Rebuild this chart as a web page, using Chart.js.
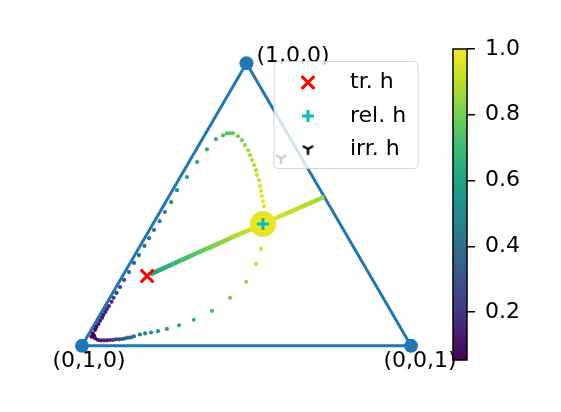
<!DOCTYPE html>
<html>
<head>
<meta charset="utf-8">
<script src="https://cdn.jsdelivr.net/npm/chart.js@4.4.1/dist/chart.umd.min.js"></script>
<style>
  html, body { margin: 0; padding: 0; background: #fff; }
  #wrap { position: relative; width: 561px; height: 412px; }
  #main { position: absolute; left: 0; top: 0; }
  #cbar { position: absolute; left: 430px; top: 30px; }
</style>
</head>
<body>
<div id="wrap">
  <canvas id="main" width="561" height="412"></canvas>
  <canvas id="cbar" width="131" height="350"></canvas>
</div>
<script>
// corners of the simplex, cartesian coords
const cornerLabels = ['(1,0,0)', '(0,1,0)', '(0,0,1)'];
const cornerX = [0.5, 0, 1];
const cornerY = [0.866, 0, 0];

// trajectory up the left edge, bending down into the fixed point
const leftX = [0.029, 0.033, 0.040, 0.044, 0.050, 0.055, 0.061, 0.065, 0.071, 0.076, 0.082, 0.090, 0.096,
    0.105, 0.116, 0.128, 0.143, 0.158, 0.173, 0.190, 0.204, 0.219, 0.236, 0.252, 0.271, 0.289,
    0.319, 0.350, 0.380, 0.407, 0.429, 0.441, 0.450, 0.459,
    0.474, 0.486, 0.495, 0.505, 0.511, 0.517, 0.523, 0.529, 0.532, 0.538, 0.541, 0.544, 0.547, 0.550, 0.553];
const leftY = [0.028, 0.038, 0.049, 0.058, 0.067, 0.077, 0.086, 0.095, 0.104, 0.113, 0.122, 0.135, 0.147,
    0.162, 0.180, 0.202, 0.226, 0.254, 0.278, 0.306, 0.330, 0.355, 0.382, 0.410, 0.440, 0.477,
    0.517, 0.563, 0.602, 0.633, 0.645, 0.651, 0.651, 0.651,
    0.642, 0.630, 0.615, 0.599, 0.584, 0.569, 0.554, 0.538, 0.523, 0.508, 0.489, 0.474, 0.459, 0.443, 0.428];
const leftV = [0.06, 0.07, 0.08, 0.09, 0.10, 0.11, 0.12, 0.13, 0.14, 0.16, 0.17, 0.19, 0.21,
    0.23, 0.26, 0.29, 0.32, 0.35, 0.37, 0.39, 0.41, 0.43, 0.45, 0.47, 0.50, 0.53,
    0.57, 0.61, 0.64, 0.68, 0.71, 0.73, 0.75, 0.77,
    0.80, 0.82, 0.84, 0.86, 0.87, 0.89, 0.90, 0.91, 0.92, 0.93, 0.94, 0.95, 0.96, 0.96, 0.97];

// trajectory along the bottom edge, rising into the fixed point
const bottomX = [0.037, 0.040, 0.049, 0.058, 0.067, 0.076, 0.085, 0.094, 0.103, 0.113, 0.122, 0.131, 0.140, 0.149,
    0.158, 0.176, 0.192, 0.210, 0.231, 0.258, 0.295, 0.340, 0.395, 0.450, 0.499, 0.529, 0.544];
const bottomY = [0.031, 0.023, 0.018, 0.017, 0.017, 0.017, 0.018, 0.018, 0.020, 0.020, 0.021, 0.023, 0.025, 0.026,
    0.029, 0.035, 0.038, 0.041, 0.045, 0.052, 0.063, 0.080, 0.107, 0.147, 0.196, 0.251, 0.297];
const bottomV = [0.06, 0.07, 0.08, 0.10, 0.12, 0.14, 0.17, 0.20, 0.23, 0.26, 0.29, 0.32, 0.35, 0.38,
    0.41, 0.45, 0.49, 0.52, 0.55, 0.59, 0.63, 0.68, 0.74, 0.80, 0.86, 0.91, 0.94];

// straight path from the tr. point to the fixed point, and from the edge to it
const lineX = [0.207, 0.277, 0.380, 0.480, 0.517, 0.550];
const lineY = [0.219, 0.251, 0.298, 0.343, 0.358, 0.373];
const lineV = [0.60, 0.67, 0.79, 0.89, 0.93, 0.97];
const edgeX = [0.550, 0.593, 0.663, 0.736];
const edgeY = [0.373, 0.393, 0.424, 0.456];
const edgeV = [0.97, 0.94, 0.90, 0.86];

// special points
const fixX = [0.550], fixY = [0.373], fixV = [0.97];
const trX = [0.198], trY = [0.214];
const relX = [0.550], relY = [0.373];
const irrX = [0.605], irrY = [0.575];
const legendLabels = ['tr. h', 'rel. h', 'irr. h'];

// colorbar
const cbMin = 0.054, cbMax = 1.0;
const cbTicks = [0.2, 0.4, 0.6, 0.8, 1.0];

const FONT = 'DejaVu Sans';
const viridisStops = ['#440154', '#482475', '#414487', '#355f8d', '#2a788e', '#21918c',
    '#22a884', '#44bf70', '#7ad151', '#bddf26', '#fde725'];

function hexRgb(h) {
    return [1, 3, 5].map(i => parseInt(h.substr(i, 2), 16));
}
function viridis(v) {
    let t = (v - cbMin) / (cbMax - cbMin);
    t = Math.min(1, Math.max(0, t));
    const p = t * 10, i = Math.min(9, Math.floor(p)), f = p - i;
    const a = hexRgb(viridisStops[i]), b = hexRgb(viridisStops[i + 1]);
    const c = a.map((ai, k) => Math.round(ai + (b[k] - ai) * f));
    return 'rgb(' + c.join(',') + ')';
}
const pts = (xs, ys) => xs.map((x, i) => ({ x: x, y: ys[i] }));

// matplotlib style tri_down marker
function triDown(r, w) {
    const c = document.createElement('canvas');
    const s = Math.ceil(2 * r + w + 2);
    c.width = c.height = s;
    const g = c.getContext('2d');
    const m = s / 2;
    g.strokeStyle = '#000';
    g.lineWidth = w;
    g.beginPath();
    g.moveTo(m, m); g.lineTo(m, m + r);
    g.moveTo(m, m); g.lineTo(m - r * 0.866, m - r * 0.5);
    g.moveTo(m, m); g.lineTo(m + r * 0.866, m - r * 0.5);
    g.stroke();
    return c;
}
const triMarker = triDown(6, 2.4);

function dots(xs, ys, vs) {
    return {
        data: pts(xs, ys),
        pointRadius: 2.1,
        pointBorderWidth: 0,
        pointBackgroundColor: vs.map(viridis),
        showLine: false,
        order: 5
    };
}
function path(xs, ys, vs) {
    return {
        data: pts(xs, ys),
        showLine: true,
        pointRadius: 0,
        borderWidth: 4.5,
        borderColor: viridis(vs[0]),
        segment: {
            borderColor: ctx => {
                const g = ctx.chart.ctx.createLinearGradient(ctx.p0.x, ctx.p0.y, ctx.p1.x, ctx.p1.y);
                g.addColorStop(0, viridis(vs[ctx.p0DataIndex]));
                g.addColorStop(1, viridis(vs[ctx.p1DataIndex]));
                return g;
            }
        },
        order: 5
    };
}

const cornerPlugin = {
    id: 'corners',
    afterDatasetsDraw(chart) {
        const c = chart.ctx, sx = chart.scales.x, sy = chart.scales.y;
        c.save();
        c.fillStyle = '#000';
        c.font = '22px "' + FONT + '"';
        c.textBaseline = 'middle';
        const offs = [[10, -7, 'left'], [7, 15, 'center'], [9, 15, 'center']];
        cornerLabels.forEach((lab, i) => {
            const px = sx.getPixelForValue(cornerX[i]), py = sy.getPixelForValue(cornerY[i]);
            c.textAlign = offs[i][2];
            c.fillText(lab, px + offs[i][0], py + offs[i][1]);
        });
        c.restore();
    }
};

const legendPlugin = {
    id: 'boxLegend',
    afterDraw(chart) {
        const c = chart.ctx, a = chart.chartArea;
        const w = 144, h = 107;
        const x0 = a.right - 9.5 - w, y0 = a.top + 12.5;
        c.save();
        c.beginPath();
        c.roundRect(x0, y0, w, h, 4);
        c.fillStyle = 'rgba(255,255,255,0.8)';
        c.fill();
        c.strokeStyle = 'rgba(204,204,204,0.8)';
        c.lineWidth = 1;
        c.stroke();
        const mx = x0 + 34, rows = [y0 + 21, y0 + 54.5, y0 + 87.5];
        c.lineWidth = 3;
        c.strokeStyle = '#ff0000';
        Chart.helpers.drawPoint(c, { pointStyle: 'crossRot', radius: 9, borderWidth: 3 }, mx, rows[0]);
        c.strokeStyle = '#00bfbf';
        Chart.helpers.drawPoint(c, { pointStyle: 'cross', radius: 6, borderWidth: 3 }, mx, rows[1]);
        Chart.helpers.drawPoint(c, { pointStyle: triMarker, radius: 6, borderWidth: 1 }, mx, rows[2]);
        c.fillStyle = '#000';
        c.font = '22px "' + FONT + '"';
        c.textAlign = 'left';
        c.textBaseline = 'middle';
        legendLabels.forEach((lab, i) => c.fillText(lab, x0 + 76, rows[i]));
        c.restore();
    }
};

new Chart(document.getElementById('main'), {
    type: 'scatter',
    data: {
        datasets: [
            {
                label: 'simplex',
                data: pts(cornerX.concat(cornerX[0]), cornerY.concat(cornerY[0])),
                showLine: true,
                borderColor: '#1f77b4',
                borderWidth: 3,
                borderJoinStyle: 'round',
                pointRadius: ctx => ctx.dataIndex < 3 ? 7 : 0,
                pointBackgroundColor: '#1f77b4',
                pointBorderWidth: 0,
                order: 10
            },
            dots(leftX, leftY, leftV),
            dots(bottomX, bottomY, bottomV),
            path(lineX, lineY, lineV),
            path(edgeX, edgeY, edgeV),
            {
                data: pts(fixX, fixY),
                pointRadius: 13,
                pointBorderWidth: 0,
                pointBackgroundColor: fixV.map(viridis),
                order: 3
            },
            {
                label: legendLabels[0],
                data: pts(trX, trY),
                pointStyle: 'crossRot',
                pointRadius: 9,
                pointBorderWidth: 3,
                pointBorderColor: '#ff0000',
                order: 1
            },
            {
                label: legendLabels[1],
                data: pts(relX, relY),
                pointStyle: 'cross',
                pointRadius: 6,
                pointBorderWidth: 3,
                pointBorderColor: '#00bfbf',
                order: 1
            },
            {
                label: legendLabels[2],
                data: pts(irrX, irrY),
                pointStyle: triMarker,
                pointRadius: 6,
                order: 1
            }
        ]
    },
    options: {
        responsive: false,
        animation: false,
        events: [],
        layout: { padding: { left: 65.5, right: 133.5, top: 49, bottom: 52 } },
        plugins: { legend: { display: false }, tooltip: { enabled: false } },
        scales: {
            x: { type: 'linear', min: -0.05, max: 1.05, display: false },
            y: { type: 'linear', min: -0.0433, max: 0.9093, display: false }
        }
    },
    plugins: [cornerPlugin, legendPlugin]
});

// colorbar
const framePlugin = {
    id: 'frame',
    afterDatasetsDraw(chart) {
        const c = chart.ctx, a = chart.chartArea;
        c.save();
        c.strokeStyle = '#000';
        c.lineWidth = 1.5;
        c.strokeRect(a.left, a.top, a.right - a.left, a.bottom - a.top);
        c.restore();
    }
};

new Chart(document.getElementById('cbar'), {
    type: 'bar',
    data: {
        labels: [''],
        datasets: [{
            data: [[cbMin, cbMax]],
            barPercentage: 1,
            categoryPercentage: 1,
            borderWidth: 0,
            backgroundColor: ctx => {
                const ch = ctx.chart;
                if (!ch.chartArea) return '#21918c';
                const ys = ch.scales.y;
                const g = ch.ctx.createLinearGradient(0, ys.getPixelForValue(cbMin), 0, ys.getPixelForValue(cbMax));
                viridisStops.forEach((col, i) => g.addColorStop(i / 10, col));
                return g;
            }
        }]
    },
    options: {
        responsive: false,
        animation: false,
        events: [],
        layout: { padding: { left: 23, top: 19, bottom: 20, right: 0 } },
        plugins: { legend: { display: false }, tooltip: { enabled: false } },
        scales: {
            x: { display: false },
            y: {
                position: 'right',
                min: cbMin,
                max: cbMax,
                afterBuildTicks: s => { s.ticks = cbTicks.map(v => ({ value: v })); },
                afterFit: s => { s.width = 94; s.paddingTop = 0; s.paddingBottom = 0; },
                grid: { drawOnChartArea: false, drawTicks: true, tickLength: 8, color: '#000', lineWidth: 1.5 },
                border: { display: false },
                ticks: {
                    color: '#000',
                    padding: 10,
                    font: { family: FONT, size: 22 },
                    callback: v => v.toFixed(1)
                }
            }
        }
    },
    plugins: [framePlugin]
});
</script>
</body>
</html>
